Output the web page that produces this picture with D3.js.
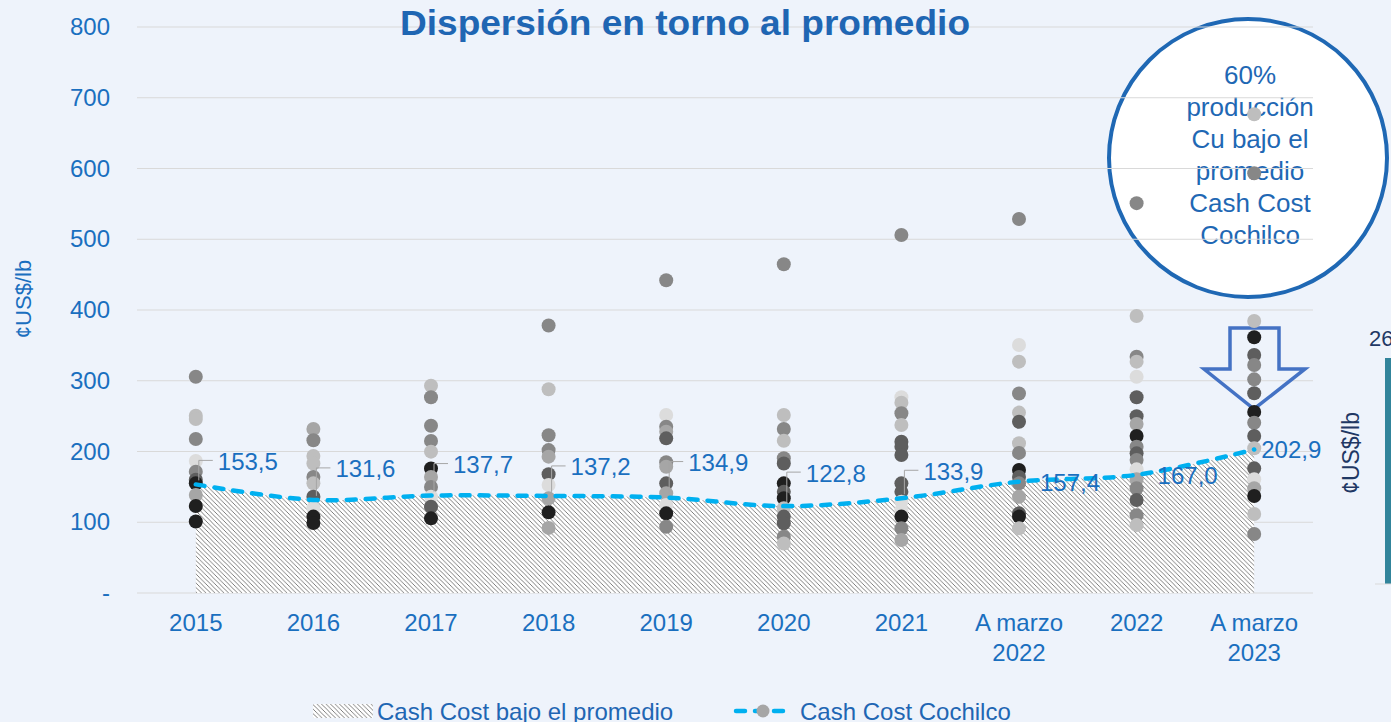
<!DOCTYPE html>
<html>
<head>
<meta charset="utf-8">
<script src="https://cdn.jsdelivr.net/npm/d3@7"></script>
<style>
  body { margin: 0; background: #eef3fb; }
  svg { display: block; font-family: "Liberation Sans", Arial, sans-serif; }
</style>
</head>
<body>
<script>
// categorias del eje x
var categorias = ['2015', '2016', '2017', '2018', '2019', '2020', '2021', 'A marzo\n2022', '2022', 'A marzo\n2023'];

// promedio cash cost cochilco (linea punteada)
var promedio = [153.5, 131.6, 137.7, 137.2, 134.9, 122.8, 133.9, 157.4, 167.0, 202.9];

// etiquetas de datos
var etiquetas = ['153,5', '131,6', '137,7', '137,2', '134,9', '122,8', '133,9', '157,4', '167,0', '202,9'];

// dispersion por faena: [valor, tono]
var p2015 = [[305.7,2],[250.6,4],[246,4],[217.6,2],[186.6,5],[171.5,2],[160,1],[155,0],[138.5,3],[123,0],[101,0]];
var p2016 = [[231.8,3],[216,2],[193.6,4],[183,4],[164,2],[155,4],[136,1],[120,5],[108,0],[99,0]];
var p2017 = [[293,4],[276.6,2],[236.5,2],[215,2],[199.8,4],[176,0],[164,3],[150,2],[136,5],[122,1],[105.5,0]];
var p2018 = [[378,2],[288,4],[223,2],[202,2],[192.7,3],[168,1],[152.6,5],[133.8,3],[114,0],[92,3]];
var p2019 = [[442,2],[251.6,5],[235,2],[228,3],[218.6,1],[184.7,2],[178.5,3],[155,1],[141,3],[124.4,5],[112.6,0],[93.7,2]];
var p2020 = [[464.6,2],[251.6,4],[231.8,2],[215.3,4],[190.4,2],[183,1],[155,0],[143,1],[134,0],[119.7,4],[108,1],[98.5,1],[79.6,2],[70,4]];
var p2021 = [[506,2],[276.6,5],[269,4],[254,2],[237.5,4],[213.9,1],[206.8,1],[195,1],[155,1],[143,1],[129,5],[117,5],[108,0],[91.4,2],[75,3]];
var pM2022 = [[528.6,2],[350.5,5],[327,4],[282,2],[255,4],[242,1],[211.6,4],[198,2],[174,0],[164,1],[155,2],[136,3],[112.6,1],[108,0],[91.4,4]];
var p2022 = [[551,2],[391.5,4],[334,2],[327,4],[305.7,5],[276.6,1],[250,1],[238.9,3],[222,0],[206.8,2],[197.4,1],[188,2],[174.8,5],[160.7,3],[148,2],[131.4,1],[110,2],[96,4]];
var pM2023 = [[676.6,4],[593.2,2],[384.5,4],[361.4,0],[336.4,1],[322.3,2],[302,2],[282.3,1],[256,0],[240.7,2],[222,1],[204.5,4],[176.2,1],[160.7,5],[148,3],[137,0],[111.6,4],[83.4,2]];
var dispersion = [p2015, p2016, p2017, p2018, p2019, p2020, p2021, pM2022, p2022, pM2023];

// tonos de gris de los puntos
var tonos = ['#1f1f1f', '#5e5e5e', '#878787', '#a6a6a6', '#bebebe', '#dcdcdc'];

// ticks eje y
var yTicks = [0, 100, 200, 300, 400, 500, 600, 700, 800];

var width = 1391, height = 722;
var azul = '#1a6fbf', azulOscuro = '#1f66b3';

var svg = d3.select('body').append('svg')
  .attr('width', width)
  .attr('height', height);

svg.append('rect').attr('width', width).attr('height', height).attr('fill', '#eef3fb');

// hatch pattern for the area
var defs = svg.append('defs');
var pat = defs.append('pattern')
  .attr('id', 'rayas')
  .attr('patternUnits', 'userSpaceOnUse')
  .attr('width', 4.5).attr('height', 4.5);
pat.append('rect').attr('width', 4.5).attr('height', 4.5).attr('fill', '#ffffff');
pat.append('path')
  .attr('d', 'M0,0 L4.5,4.5 M-1,3.5 L1,5.5 M3.5,-1 L5.5,1')
  .attr('stroke', '#707070').attr('stroke-width', 0.9);

var x = d3.scaleBand().domain(categorias).range([137, 1313]).padding(0);
var y = d3.scaleLinear().domain([0, 800]).range([593, 27]);
var cx = function(i) { return x(categorias[i]) + x.bandwidth() / 2; };

// annotation circle (behind the plot)
svg.append('circle')
  .attr('cx', 1248).attr('cy', 158).attr('r', 139)
  .attr('fill', '#ffffff')
  .attr('stroke', '#1f68b4').attr('stroke-width', 4);

var notas = ['60%', 'producción', 'Cu bajo el', 'promedio', 'Cash Cost', 'Cochilco'];
svg.append('g').selectAll('text').data(notas).enter().append('text')
  .attr('x', 1250)
  .attr('y', function(d, i) { return 84 + i * 32; })
  .attr('text-anchor', 'middle')
  .attr('font-size', 26)
  .attr('fill', '#1f68b4')
  .text(function(d) { return d; });

// gridlines
svg.append('g').selectAll('line').data(yTicks).enter().append('line')
  .attr('x1', 137).attr('x2', 1313)
  .attr('y1', function(d) { return y(d); })
  .attr('y2', function(d) { return y(d); })
  .attr('stroke', '#d9d9d9').attr('stroke-width', 1);

// y axis labels
var yAxis = d3.axisLeft(y).tickValues(yTicks).tickSize(0).tickPadding(0)
  .tickFormat(function(d) { return d === 0 ? '-' : d; });
var gy = svg.append('g').attr('transform', 'translate(110,0)').call(yAxis);
gy.select('.domain').remove();
gy.selectAll('text')
  .attr('font-family', '"Liberation Sans", Arial, sans-serif')
  .attr('font-size', 24).attr('fill', azul);

svg.append('text')
  .attr('transform', 'translate(31,299) rotate(-90)')
  .attr('text-anchor', 'middle')
  .attr('font-size', 22).attr('fill', azul)
  .text('¢US$/lb');

// x axis labels
var gx = svg.append('g');
categorias.forEach(function(c, i) {
  var t = gx.append('text')
    .attr('x', cx(i)).attr('y', 631)
    .attr('text-anchor', 'middle')
    .attr('font-size', 24).attr('fill', azul);
  c.split('\n').forEach(function(l, j) {
    t.append('tspan').attr('x', cx(i)).attr('dy', j ? 30 : 0).text(l);
  });
});

// hatched area under the average
var area = d3.area()
  .x(function(d, i) { return cx(i); })
  .y0(y(0))
  .y1(function(d) { return y(d); })
  .curve(d3.curveCatmullRom.alpha(0.5));
svg.append('path').datum(promedio)
  .attr('d', area)
  .attr('fill', 'url(#rayas)');

// arrow
svg.append('path')
  .attr('d', 'M1230,328 L1279,328 L1279,369 L1305,369 L1254,409 L1204,369 L1230,369 Z')
  .attr('fill', 'none')
  .attr('stroke', '#4472c4').attr('stroke-width', 3.5)
  .attr('stroke-linejoin', 'miter');

// scatter points
var gp = svg.append('g');
dispersion.forEach(function(pts, i) {
  gp.selectAll(null).data(pts).enter().append('circle')
    .attr('cx', cx(i))
    .attr('cy', function(d) { return y(d[0]); })
    .attr('r', 7)
    .attr('fill', function(d) { return tonos[d[1]]; });
});

// dashed average line
var line = d3.line()
  .x(function(d, i) { return cx(i); })
  .y(function(d) { return y(d); })
  .curve(d3.curveCatmullRom.alpha(0.5));
svg.append('path').datum(promedio)
  .attr('d', line)
  .attr('fill', 'none')
  .attr('stroke', '#00b0f0')
  .attr('stroke-width', 4.5)
  .attr('stroke-dasharray', '9,10')
  .attr('stroke-linecap', 'round');

// data labels: vertical shift from the point; the first seven have a leader line
var dyEtiqueta = [-23, -31, -31, -29, -35, -33, -27, 1, 1, 0];
var gl = svg.append('g');
promedio.forEach(function(v, i) {
  var ly = y(v) + dyEtiqueta[i];
  var lx = cx(i) + (i >= 7 ? (i === 9 ? 7 : 21) : 22);
  if (i < 7) {
    gl.append('path')
      .attr('d', 'M' + (cx(i) + 3) + ',' + (y(v) - 4) + ' L' + (cx(i) + 3) + ',' + (ly - 1) + ' L' + (lx - 5) + ',' + (ly - 1))
      .attr('fill', 'none').attr('stroke', '#a6a6a6').attr('stroke-width', 1);
  }
  gl.append('text')
    .attr('x', lx).attr('y', ly + 8.5)
    .attr('font-size', 24).attr('fill', azul)
    .text(etiquetas[i]);
});

// title
svg.append('text')
  .attr('x', 685).attr('y', 35)
  .attr('text-anchor', 'middle')
  .attr('font-size', 35).attr('font-weight', 'bold')
  .attr('textLength', 570).attr('lengthAdjust', 'spacingAndGlyphs')
  .attr('fill', azulOscuro)
  .text('Dispersión en torno al promedio');

// legend
var lg = svg.append('g');
lg.append('rect').attr('x', 313).attr('y', 704).attr('width', 60).attr('height', 14).attr('fill', 'url(#rayas)');
lg.append('text').attr('x', 377).attr('y', 720).attr('font-size', 24).attr('fill', azulOscuro)
  .text('Cash Cost bajo el promedio');
lg.append('line').attr('x1', 736).attr('x2', 790).attr('y1', 711).attr('y2', 711)
  .attr('stroke', '#00b0f0').attr('stroke-width', 4.5)
  .attr('stroke-dasharray', '9,10').attr('stroke-linecap', 'round');
lg.append('circle').attr('cx', 763).attr('cy', 711).attr('r', 6.5).attr('fill', '#a6a6a6');
lg.append('text').attr('x', 800).attr('y', 720).attr('font-size', 24).attr('fill', azulOscuro)
  .text('Cash Cost Cochilco');

// fragment of the next chart cut at the right edge
svg.append('text').attr('x', 1369).attr('y', 346).attr('font-size', 22).attr('fill', '#1f3864').text('26');
svg.append('text')
  .attr('transform', 'translate(1359,453) rotate(-90)')
  .attr('text-anchor', 'middle')
  .attr('font-size', 23).attr('fill', '#1f3864')
  .text('¢US$/lb');
svg.append('rect').attr('x', 1385).attr('y', 358).attr('width', 8).attr('height', 226).attr('fill', '#31849b');
svg.append('line').attr('x1', 1375).attr('x2', 1391).attr('y1', 584).attr('y2', 584).attr('stroke', '#d9d9d9');
</script>
</body>
</html>
